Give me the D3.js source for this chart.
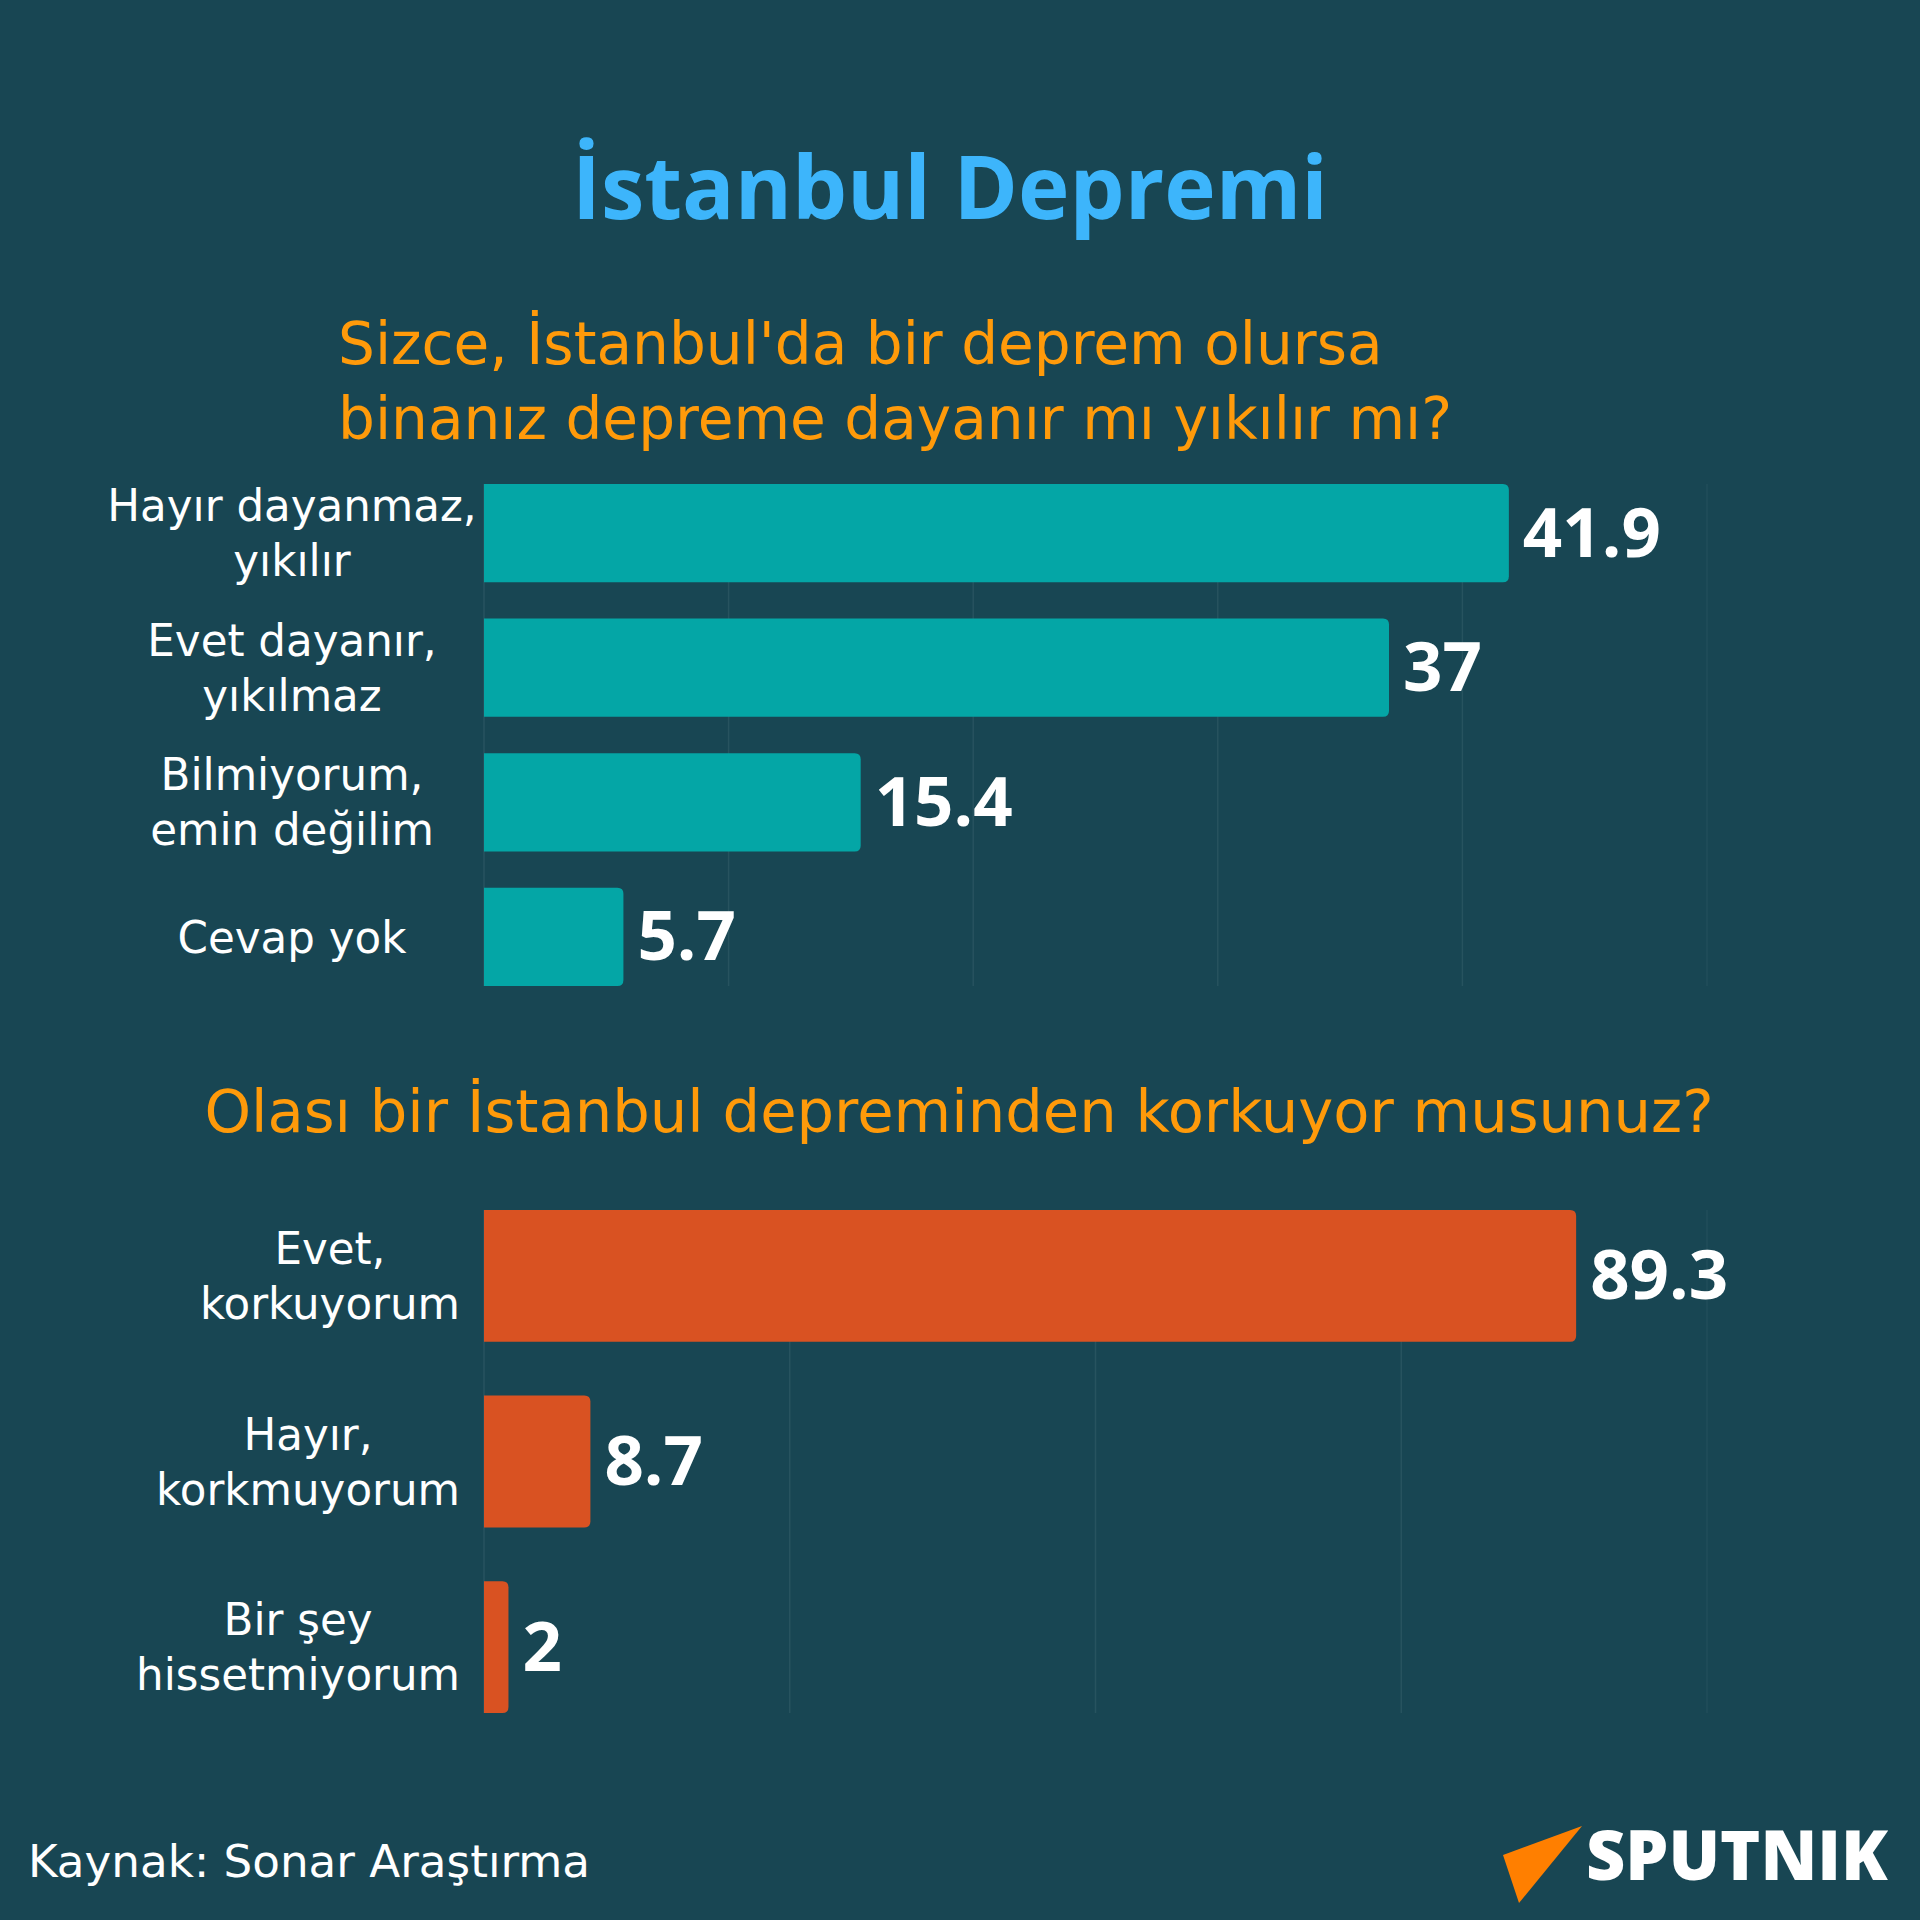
<!DOCTYPE html>
<html><head><meta charset="utf-8">
<script src="https://cdn.jsdelivr.net/npm/d3@7"></script>
<style>html,body{margin:0;padding:0;background:#184653}</style>
</head><body>
<script>
// ---------- data ----------
const titleText = "İstanbul Depremi";
const q1Lines = ["Sizce, İstanbul'da bir deprem olursa", "binanız depreme dayanır mı yıkılır mı?"];
const q1Categories = [["Hayır dayanmaz,", "yıkılır"], ["Evet dayanır,", "yıkılmaz"], ["Bilmiyorum,", "emin değilim"], ["Cevap yok"]];
const q1Values = [41.9, 37, 15.4, 5.7];
const q1Ticks = [0, 10, 20, 30, 40, 50];
const q2Title = "Olası bir İstanbul depreminden korkuyor musunuz?";
const q2Categories = [["Evet,", "korkuyorum"], ["Hayır,", "korkmuyorum"], ["Bir şey", "hissetmiyorum"]];
const q2Values = [89.3, 8.7, 2];
const q2Ticks = [0, 25, 50, 75, 100];
const sourceText = "Kaynak: Sonar Araştırma";
const brandText = "SPUTNIK";

// ---------- styles ----------
const W = 1920, H = 1920;
const BG = "#184653";
const TEAL = "#04a6a6";
const ORANGE_BAR = "#d95222";
const ORANGE_TXT = "#ff9a0a";
const BLUE = "#3db5fb";
const GRID = "#27535f";
const LABEL_FONT = "'DejaVu Sans', 'Noto Sans', sans-serif";
const VALUE_FONT = "'Open Sans', 'Noto Sans', sans-serif";

const svg = d3.select("body").append("svg").attr("width", W).attr("height", H);
svg.append("rect").attr("width", W).attr("height", H).attr("fill", BG);

function fit(sel, target) {
  const fs = parseFloat(sel.attr("font-size"));
  const w = sel.node().getComputedTextLength();
  sel.attr("font-size", fs * target / w);
  return fs * target / w;
}

// title
const t = svg.append("text").text(titleText)
  .attr("x", 950).attr("y", 219).attr("text-anchor", "middle")
  .attr("font-family", "'Open Sans', sans-serif").attr("font-weight", 700)
  .attr("font-size", 80).attr("fill", BLUE);
fit(t, 756);

// subtitle 1 (one text, two lines)
const probeS = svg.append("text").text(q1Lines[0])
  .attr("font-family", LABEL_FONT).attr("font-size", 50);
const subFs = fit(probeS, 1045);
probeS.remove();
const s1 = svg.append("text").attr("x", 338).attr("y", 364)
  .attr("font-family", LABEL_FONT).attr("font-size", subFs).attr("fill", ORANGE_TXT);
s1.selectAll("tspan").data(q1Lines).join("tspan")
  .attr("x", 338).attr("dy", (d, i) => i === 0 ? 0 : 75).text(d => d);

// subtitle 2
const s2 = svg.append("text").text(q2Title).attr("x", 959).attr("y", 1132)
  .attr("text-anchor", "middle")
  .attr("font-family", LABEL_FONT).attr("font-size", subFs).attr("fill", ORANGE_TXT);
fit(s2, 1509);

// category label font size
const probe = svg.append("text").text("hissetmiyorum").attr("font-family", LABEL_FONT).attr("font-size", 40);
const catFs = fit(probe, 324);
probe.remove();
const probeV = svg.append("text").text("41.9").attr("font-family", VALUE_FONT).attr("font-weight", 700).attr("font-size", 60);
const valFs = fit(probeV, 138);
probeV.remove();

function barPath(x0, y0, w, h, r) {
  r = Math.min(r, w / 2, h / 2);
  return `M${x0},${y0}H${x0 + w - r}Q${x0 + w},${y0} ${x0 + w},${y0 + r}V${y0 + h - r}Q${x0 + w},${y0 + h} ${x0 + w - r},${y0 + h}H${x0}Z`;
}

function drawChart(cats, vals, ticks, yRange, pad, color, labelMode) {
  const g = svg.append("g");
  const x = d3.scaleLinear().domain([0, ticks[ticks.length - 1]]).range([484, 1707]);
  const y = d3.scaleBand().domain(d3.range(vals.length)).range(yRange).paddingInner(pad).paddingOuter(0);

  // grid
  g.append("g").selectAll("line").data(ticks).join("line")
    .attr("x1", d => x(d)).attr("x2", d => x(d))
    .attr("y1", yRange[0]).attr("y2", yRange[1])
    .attr("stroke", GRID).attr("stroke-width", 1.5)
    .attr("stroke-opacity", (d, i) => i === ticks.length - 1 ? 0.6 : 1);

  // bars
  g.append("g").selectAll("path").data(vals).join("path")
    .attr("d", (d, i) => barPath(x(0), y(i), x(d) - x(0), y.bandwidth(), 6))
    .attr("fill", color);

  // values
  g.append("g").selectAll("text").data(vals).join("text")
    .text(d => d)
    .attr("x", d => x(d) + 14)
    .attr("y", (d, i) => y(i) + y.bandwidth() / 2 + valFs * 0.34)
    .attr("font-family", VALUE_FONT).attr("font-weight", 700)
    .attr("font-size", valFs).attr("fill", "#ffffff");

  // category labels: one text element per category, lines as tspans
  const lh = 55;
  cats.forEach((lines, i) => {
    const cy = y(i) + y.bandwidth() / 2;
    const y0 = cy - (lines.length - 1) / 2 * lh + catFs * 0.36;
    const txt = g.append("text")
      .attr("y", y0)
      .attr("text-anchor", "middle")
      .attr("font-family", LABEL_FONT).attr("font-size", catFs).attr("fill", "#ffffff");
    const spans = txt.selectAll("tspan").data(lines).join("tspan")
      .attr("dy", (d, k) => k === 0 ? 0 : lh).text(d => d);
    let cx;
    if (labelMode === "center") cx = 292;
    else {
      const mw = d3.max(spans.nodes(), n => n.getComputedTextLength());
      cx = 460 - mw / 2;
    }
    spans.attr("x", cx);
  });
}

drawChart(q1Categories, q1Values, q1Ticks, [484, 986], 0.27, TEAL, "center");
drawChart(q2Categories, q2Values, q2Ticks, [1210, 1713], 0.29, ORANGE_BAR, "right");

// source
const src = svg.append("text").text(sourceText).attr("x", 28).attr("y", 1877)
  .attr("font-family", LABEL_FONT).attr("font-size", catFs).attr("fill", "#ffffff");
fit(src, 562);

// brand
svg.append("path").attr("d", "M1582,1826L1503,1855L1519,1903Z").attr("fill", "#ff7f00");
const br = svg.append("text").text(brandText).attr("x", 1586).attr("y", 1880)
  .attr("font-family", "'Open Sans', sans-serif").attr("font-weight", 800)
  .attr("font-size", 52).attr("fill", "#ffffff");
fit(br, 302);
</script>
</body></html>
